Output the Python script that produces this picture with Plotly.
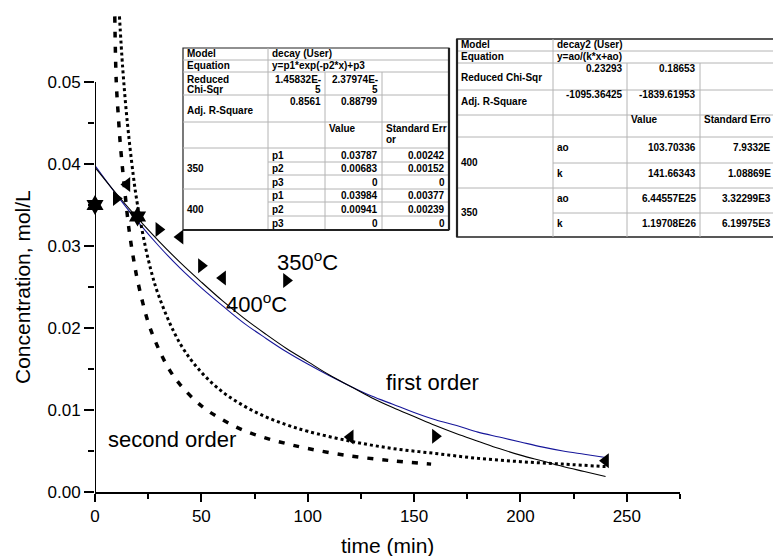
import plotly.graph_objects as go

# ---------------- data ----------------
fit_time = [0, 10, 20, 30, 40, 50, 60, 70, 80, 90, 100, 110, 120, 130, 140,
            150, 160, 170, 180, 190, 200, 210, 220, 230, 240]
fit_400_blue = [0.0398, 0.0363, 0.0330, 0.0300, 0.0273, 0.0249, 0.0227, 0.0206,
                0.0188, 0.0171, 0.0156, 0.0142, 0.0129, 0.0117, 0.0107, 0.0097,
                0.0088, 0.0081, 0.0073, 0.0067, 0.0061, 0.0055, 0.0050, 0.0046, 0.0042]
fit_350_black = [0.0396, 0.0364, 0.0334, 0.0306, 0.0280, 0.0256, 0.0233, 0.0212,
                 0.0193, 0.0175, 0.0159, 0.0143, 0.0129, 0.0115, 0.0103, 0.0092,
                 0.0081, 0.0071, 0.0062, 0.0053, 0.0045, 0.0038, 0.0031, 0.0025, 0.0019]

dotted_time = [11.5, 13, 15, 18, 20, 25, 30, 40, 50, 60, 70, 80, 90, 100, 120,
               140, 160, 180, 200, 220, 240]
dotted_conc = [0.0580, 0.0518, 0.0456, 0.0386, 0.0350, 0.0284, 0.0239, 0.0181,
               0.0146, 0.0122, 0.0105, 0.0092, 0.0082, 0.0074, 0.0062, 0.0053,
               0.0047, 0.0041, 0.0037, 0.0034, 0.0031]

dashed_time = [9.3, 10, 11, 12, 14, 16, 18, 20, 25, 30, 35, 40, 50, 60, 70, 80,
               90, 100, 120, 140, 158]
dashed_conc = [0.0580, 0.0500, 0.0457, 0.0421, 0.0367, 0.0320, 0.0286, 0.0258,
               0.0207, 0.0174, 0.0149, 0.0131, 0.0105, 0.0088, 0.0075, 0.0066,
               0.0059, 0.0053, 0.0044, 0.0038, 0.0034]

star_time = [0, 20]
star_conc = [0.0350, 0.0336]
right_time = [10, 30, 50, 90, 160]
right_conc = [0.0358, 0.0320, 0.0276, 0.0258, 0.0068]
left_time = [15, 40, 60, 120, 240]
left_conc = [0.0375, 0.0311, 0.0261, 0.0067, 0.0038]

x_tickvals = [0, 50, 100, 150, 200, 250]
x_minorvals = [25, 75, 125, 175, 225, 275]
y_tickvals = [0.00, 0.01, 0.02, 0.03, 0.04, 0.05]
y_ticktext = ["0.00", "0.01", "0.02", "0.03", "0.04", "0.05"]
y_minorvals = [0.005, 0.015, 0.025, 0.035, 0.045]

x_title = "time (min)"
y_title = "Concentration, mol/L"
label_350 = "350<sup>o</sup>C"
label_400 = "400<sup>o</sup>C"
label_first = "first order"
label_second = "second order"

# table 1 (exponential fit)
t1_model = ["Model", "decay (User)"]
t1_equation = ["Equation", "y=p1*exp(-p2*x)+p3"]
t1_stat_labels = ["Reduced<br>Chi-Sqr", "Adj. R-Square"]
t1_stat_col1 = ["1.45832E-<br>5", "0.8561"]
t1_stat_col2 = ["2.37974E-<br>5", "0.88799"]
t1_headers = ["Value", "Standard Err<br>or"]
t1_groups = ["350", "400"]
t1_params = [["p1", "p2", "p3"], ["p1", "p2", "p3"]]
t1_values = [["0.03787", "0.00683", "0"], ["0.03984", "0.00941", "0"]]
t1_errors = [["0.00242", "0.00152", "0"], ["0.00377", "0.00239", "0"]]

# table 2 (second-order fit)
t2_model = ["Model", "decay2 (User)"]
t2_equation = ["Equation", "y=ao/(k*x+ao)"]
t2_stat_labels = ["Reduced Chi-Sqr", "Adj. R-Square"]
t2_stat_col1 = ["0.23293", "-1095.36425"]
t2_stat_col2 = ["0.18653", "-1839.61953"]
t2_headers = ["Value", "Standard Erro"]
t2_groups = ["400", "350"]
t2_params = [["ao", "k"], ["ao", "k"]]
t2_values = [["103.70336", "141.66343"], ["6.44557E25", "1.19708E26"]]
t2_errors = [["7.9332E", "1.08869E"], ["3.32299E3", "6.19975E3"]]

# ---------------- figure ----------------
FONT = "Arial, 'Liberation Sans', sans-serif"
W, H = 773, 556
L, R, T, B = 95, 680, 15, 492  # plot area in pixels
TS = 10  # table font size

fig = go.Figure()
fig.add_trace(go.Scatter(x=fit_time, y=fit_400_blue, mode="lines",
                         line=dict(color="#16169a", width=1.1, shape="spline")))
fig.add_trace(go.Scatter(x=fit_time, y=fit_350_black, mode="lines",
                         line=dict(color="black", width=1.1, shape="spline")))
fig.add_trace(go.Scatter(x=dotted_time, y=dotted_conc, mode="lines",
                         line=dict(color="black", width=3, dash="dot", shape="spline")))
fig.add_trace(go.Scatter(x=dashed_time, y=dashed_conc, mode="lines",
                         line=dict(color="black", width=3.5, dash="6px,9px", shape="spline")))
fig.add_trace(go.Scatter(x=star_time, y=star_conc, mode="markers", cliponaxis=False,
                         marker=dict(symbol="hexagram", size=15, color="black")))
fig.add_trace(go.Scatter(x=right_time, y=right_conc, mode="markers", cliponaxis=False,
                         marker=dict(symbol="triangle-right", size=13, color="black")))
fig.add_trace(go.Scatter(x=left_time, y=left_conc, mode="markers", cliponaxis=False,
                         marker=dict(symbol="triangle-left", size=13, color="black")))

shapes = []
annotations = []


def px_x(x):
    return (x - L) / (R - L)


def px_y(y):
    return (B - y) / (B - T)


def text(s, x, y, xanchor="left", yanchor="middle", size=TS, bold=True, angle=0):
    annotations.append(dict(
        text=("<b>%s</b>" % s) if bold else s,
        x=px_x(x), y=px_y(y), xref="paper", yref="paper",
        xanchor=xanchor, yanchor=yanchor, showarrow=False, textangle=angle,
        borderpad=0,
        font=dict(size=size, color="black", family=FONT)))


def line(x0, y0, x1, y1, color="#b4b4b4", width=1):
    shapes.append(dict(type="line", xref="paper", yref="paper",
                       x0=px_x(x0), y0=px_y(y0), x1=px_x(x1), y1=px_y(y1),
                       line=dict(color=color, width=width)))


def rect(x0, y0, x1, y1, color="#222", width=1.5, fill="white"):
    shapes.append(dict(type="rect", xref="paper", yref="paper", layer="above",
                       x0=px_x(x0), y0=px_y(y0), x1=px_x(x1), y1=px_y(y1),
                       line=dict(color=color, width=width), fillcolor=fill))


def lines_text(s, x, y, step, **kw):
    for i, part in enumerate(s.split("<br>")):
        text(part, x, y + i * step, **kw)


# ---- table 1 ----
X1 = [183, 268, 325, 382, 449]
Y1 = [48, 60, 72, 95, 122, 148, 162, 175, 189, 202, 216, 230]
rect(X1[0], Y1[0], X1[-1], Y1[-1], width=1.2)
for i in range(1, len(Y1) - 1):
    start = X1[1] if i in (6, 7, 9, 10) else X1[0]
    line(start, Y1[i], X1[-1], Y1[i])
line(X1[1], Y1[0], X1[1], Y1[-1])
line(X1[2], Y1[2], X1[2], Y1[-1])
line(X1[3], Y1[2], X1[3], Y1[-1])
line(X1[-1], Y1[0], X1[-1], Y1[-1], color="#222", width=2.2)
line(X1[0], Y1[-1], X1[-1], Y1[-1], color="#222", width=1.8)

text(t1_model[0], 186, 54)
text(t1_model[1], 271, 54)
text(t1_equation[0], 186, 66)
text(t1_equation[1], 271, 66)
lines_text(t1_stat_labels[0], 186, 79, 10)
text(t1_stat_labels[1], 186, 110)
lines_text(t1_stat_col1[0], 322, 79, 10, xanchor="right")
lines_text(t1_stat_col2[0], 379, 79, 10, xanchor="right")
text(t1_stat_col1[1], 322, 102, xanchor="right")
text(t1_stat_col2[1], 379, 102, xanchor="right")
text(t1_headers[0], 328, 129)
lines_text(t1_headers[1], 385, 129, 10)
for g in range(2):
    r0 = 5 + 3 * g
    text(t1_groups[g], 186, (Y1[r0] + Y1[r0 + 3]) / 2)
    for r in range(3):
        yc = (Y1[r0 + r] + Y1[r0 + r + 1]) / 2
        text(t1_params[g][r], 271, yc)
        text(t1_values[g][r], 379, yc, xanchor="right")
        text(t1_errors[g][r], 446, yc, xanchor="right")

# ---- table 2 ----
X2 = [457, 553, 627, 700, 800]
Y2 = [39, 51, 63, 90, 115, 137, 163, 188, 213, 237]
rect(X2[0], Y2[0], X2[-1], Y2[-1], width=1.5)
for i in range(1, len(Y2) - 1):
    start = X2[1] if i in (6, 8) else X2[0]
    line(start, Y2[i], X2[-1], Y2[i])
line(X2[1], Y2[0], X2[1], Y2[-1])
line(X2[2], Y2[2], X2[2], Y2[-1])
line(X2[3], Y2[2], X2[3], Y2[-1])
line(X2[0], Y2[0], X2[0], Y2[-1], color="#222", width=2.2)

text(t2_model[0], 460, 45)
text(t2_model[1], 556, 45)
text(t2_equation[0], 460, 57)
text(t2_equation[1], 556, 57)
text(t2_stat_labels[0], 460, 77)
text(t2_stat_labels[1], 460, 102)
text(t2_stat_col1[0], 624, 69, xanchor="right")
text(t2_stat_col2[0], 697, 69, xanchor="right")
text(t2_stat_col1[1], 624, 94, xanchor="right")
text(t2_stat_col2[1], 697, 94, xanchor="right")
text(t2_headers[0], 630, 119)
text(t2_headers[1], 703, 119)
for g in range(2):
    r0 = 5 + 2 * g
    text(t2_groups[g], 460, (Y2[r0] + Y2[r0 + 2]) / 2)
    for r in range(2):
        yc = Y2[r0 + r] + 10
        text(t2_params[g][r], 556, yc)
        text(t2_values[g][r], 697, yc, xanchor="right")
        text(t2_errors[g][r], 772, yc, xanchor="right")

# ---- curve labels & axis titles ----
text(label_350, 307, 261, xanchor="center", size=22, bold=False)
text(label_400, 256, 303, xanchor="center", size=22, bold=False)
text(label_first, 432, 382, xanchor="center", size=22, bold=False)
text(label_second, 172, 439, xanchor="center", size=22, bold=False)
text(y_title, 22, 287, xanchor="center", size=21, bold=False, angle=-90)
text(x_title, 387, 545, xanchor="center", size=21, bold=False)

# y axis line (only up to 0.05)
shapes.append(dict(type="line", xref="x", yref="y", x0=0, x1=0, y0=0, y1=0.05,
                   line=dict(color="black", width=2), layer="above"))

fig.update_layout(
    width=W, height=H,
    margin=dict(l=L, r=W - R, t=T, b=H - B, pad=0),
    paper_bgcolor="white", plot_bgcolor="white",
    showlegend=False,
    font=dict(family=FONT, color="black"),
    shapes=shapes, annotations=annotations,
    xaxis=dict(range=[0, 275], showline=True, linecolor="black", linewidth=2,
               ticks="outside", ticklen=8, tickwidth=2, tickcolor="black",
               tickmode="array", tickvals=x_tickvals,
               minor=dict(tickmode="array", tickvals=x_minorvals, ticks="outside",
                          ticklen=5, tickwidth=2, tickcolor="black", showgrid=False),
               showgrid=False, zeroline=False,
               tickfont=dict(size=17, color="black", family=FONT)),
    yaxis=dict(range=[0, 0.05817], showline=False,
               ticks="outside", ticklen=10, tickwidth=2, tickcolor="black",
               tickmode="array", tickvals=y_tickvals, ticktext=y_ticktext,
               minor=dict(tickmode="array", tickvals=y_minorvals, ticks="outside",
                          ticklen=6, tickwidth=2, tickcolor="black", showgrid=False),
               showgrid=False, zeroline=False,
               tickfont=dict(size=17, color="black", family=FONT)),
)

fig.write_html("out.html")
